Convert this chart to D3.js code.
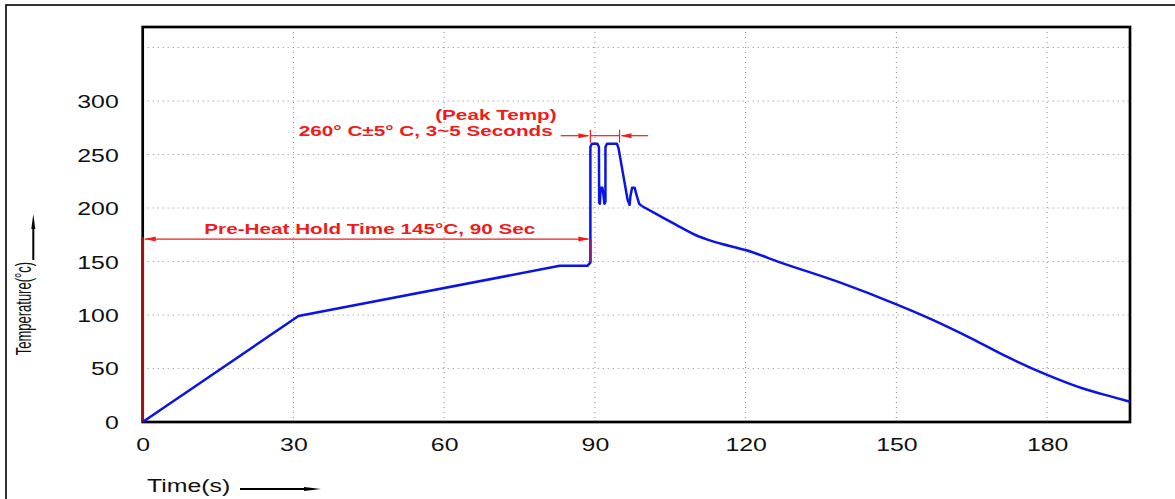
<!DOCTYPE html>
<html><head><meta charset="utf-8">
<script src="https://cdn.jsdelivr.net/npm/d3@7"></script>
<style>
html,body{margin:0;padding:0;background:#fff;}
svg{display:block;font-family:"Liberation Sans",Arial,sans-serif;}
</style></head>
<body>
<svg id="c" width="1175" height="499"></svg>
<script>
// ---- data ----
const xTicks = [0, 30, 60, 90, 120, 150, 180];
const yTicks = [0, 50, 100, 150, 200, 250, 300];
const yGrid = [50, 100, 150, 200, 250, 300, 350];
const xGrid = [30, 60, 90, 120, 150, 180];

// ramp, preheat and peak (linear segments)
const heatTime = [0, 31, 83, 88.5, 89.1, 89.1, 89.4, 90.5, 90.8, 90.85, 91.0, 91.15, 91.5, 91.7, 91.9, 92.1, 92.1, 92.4, 94.4, 94.7, 96.5, 96.9, 97.1, 97.4, 97.9, 98.3, 98.8, 99.3];
const heatTemp = [0, 99, 146, 146, 149, 257, 260, 260, 257, 205, 204, 219, 219, 212, 204, 206, 257, 260, 260, 256, 208, 203, 212, 219, 219, 212, 204, 202];
// cooling (smooth)
const coolTime = [99.3, 102, 105, 108, 110, 112, 115, 120, 127, 139, 150, 157, 165, 172, 180, 187, 193, 196.5];
const coolTemp = [202, 195, 187.3, 179.5, 174.8, 171.2, 166.8, 160.7, 149, 130, 110, 96, 78, 61, 44, 31.5, 23.5, 19];

const preheatLabel = "Pre-Heat Hold Time 145°C, 90 Sec";
const peakLabel1 = "(Peak Temp)";
const peakLabel2 = "260° C±5° C, 3~5 Seconds";
const xTitle = "Time(s)";
const yTitle = "Temperature(°c)";

// ---- layout ----
const SX = 1.38; // horizontal glyph stretch of the reference
const svg = d3.select("#c");
const L = 142.7, R = 1130, T = 27, B = 422;
const x = d3.scaleLinear().domain([0, 196.5]).range([L, R]);
const y = d3.scaleLinear().domain([0, 369.2]).range([B, T]);
const RED = "#ee1c1c";

// outer frame
svg.append("rect").attr("x", 6).attr("y", 5).attr("width", 1300).attr("height", 700)
  .attr("fill", "none").attr("stroke", "#000").attr("stroke-width", 1.6);

// grid
const g = svg.append("g");
g.selectAll(".vg").data(xGrid).enter().append("line")
  .attr("x1", d => x(d)).attr("x2", d => x(d)).attr("y1", T).attr("y2", B)
  .attr("stroke", "#888").attr("stroke-width", 1).attr("stroke-dasharray", "1,4");
g.selectAll(".hg").data(yGrid).enter().append("line")
  .attr("y1", d => y(d)).attr("y2", d => y(d)).attr("x1", L).attr("x2", R)
  .attr("stroke", "#888").attr("stroke-width", 1).attr("stroke-dasharray", "1,4");

// axes (labels only, via d3 axis)
const ax = svg.append("g").attr("transform", `translate(0,${B})`)
  .call(d3.axisBottom(x).tickValues(xTicks).tickSize(0).tickFormat(d3.format("d")));
ax.select(".domain").remove();
ax.selectAll("text").attr("y", 0).attr("dy", 0)
  .attr("transform", "translate(0,29) scale(" + SX + ",1)")
  .attr("font-size", 18).attr("font-family", "Liberation Sans, Arial, sans-serif").attr("fill", "#111");

const ay = svg.append("g").attr("transform", `translate(${L},0)`)
  .call(d3.axisLeft(y).tickValues(yTicks).tickSize(0).tickFormat(d3.format("d")));
ay.select(".domain").remove();
ay.selectAll("text").attr("x", 0).attr("dy", "0.36em")
  .attr("transform", "translate(-24,0) scale(" + SX + ",1)")
  .attr("font-size", 18).attr("font-family", "Liberation Sans, Arial, sans-serif").attr("fill", "#111");

// plot frame
svg.append("rect").attr("x", L).attr("y", T).attr("width", R - L).attr("height", B - T)
  .attr("fill", "none").attr("stroke", "#000").attr("stroke-width", 2.7);

// arrowhead helper
function head(tipX, tipY, dir, len, hw, color) {
  let pts;
  if (dir === "up") pts = [[tipX, tipY], [tipX - hw, tipY + len], [tipX + hw, tipY + len]];
  else pts = [[tipX, tipY], [tipX - dir * len, tipY - hw], [tipX - dir * len, tipY + hw]];
  svg.append("polygon").attr("points", pts.map(p => p.join(",")).join(" ")).attr("fill", color);
}

// pre-heat annotation
const pa = y(171);
svg.append("line").attr("x1", x(0)).attr("x2", x(0)).attr("y1", pa - 2).attr("y2", B)
  .attr("stroke", "#a0100e").attr("stroke-width", 2.7);
svg.append("line").attr("x1", x(0) + 2).attr("x2", x(89.1) - 2).attr("y1", pa).attr("y2", pa)
  .attr("stroke", RED).attr("stroke-width", 1.2);
head(x(0) + 2, pa, -1, 11, 2.5, RED);
head(x(89.1) - 1, pa, 1, 11, 2.5, RED);

// curve
const line = d3.line().x(d => x(d[0])).y(d => y(d[1]));
svg.append("path").datum(heatTime.map((t, i) => [t, heatTemp[i]]))
  .attr("d", line.curve(d3.curveLinear)).attr("fill", "none")
  .attr("stroke", "#0a14e6").attr("stroke-width", 2.5).attr("stroke-linejoin", "round");
svg.append("path").datum(coolTime.map((t, i) => [t, coolTemp[i]]))
  .attr("d", d3.line().x(d => x(d[0])).y(d => y(d[1])).curve(d3.curveMonotoneX)).attr("fill", "none")
  .attr("stroke", "#0a14e6").attr("stroke-width", 2.5).attr("stroke-linejoin", "round");

// purple overlap segment at the preheat end
svg.append("line").attr("x1", x(89.1)).attr("x2", x(89.1)).attr("y1", pa).attr("y2", y(150))
  .attr("stroke", "#8a1c86").attr("stroke-width", 2.5);

// preheat text
svg.append("text").attr("transform", `translate(${x(45.2)},${y(175.7)}) scale(${SX},1)`)
  .attr("text-anchor", "middle").attr("font-size", 15).attr("font-weight", "bold")
  .attr("fill", RED).text(preheatLabel);

// peak annotation
const pk = y(267.6);
svg.append("line").attr("x1", x(83.2)).attr("x2", x(89.1) - 2).attr("y1", pk).attr("y2", pk)
  .attr("stroke", RED).attr("stroke-width", 1.2);
head(x(89.1) - 1, pk, 1, 11, 2.5, RED);
svg.append("line").attr("x1", x(100.6)).attr("x2", x(94.9) + 2).attr("y1", pk).attr("y2", pk)
  .attr("stroke", RED).attr("stroke-width", 1.2);
head(x(94.9) + 1, pk, -1, 11, 2.5, RED);
svg.append("line").attr("x1", x(89.1)).attr("x2", x(89.1)).attr("y1", pk - 6).attr("y2", pk + 7)
  .attr("stroke", RED).attr("stroke-width", 1.2);
svg.append("line").attr("x1", x(94.9)).attr("x2", x(94.9)).attr("y1", pk - 6).attr("y2", pk + 7)
  .attr("stroke", RED).attr("stroke-width", 1.2);
svg.append("line").attr("x1", x(89.1)).attr("x2", x(94.9)).attr("y1", pk).attr("y2", pk)
  .attr("stroke", RED).attr("stroke-width", 1.2);

svg.append("text").attr("transform", `translate(${x(70.3)},${y(282.2)}) scale(${SX},1)`)
  .attr("text-anchor", "middle").attr("font-size", 15).attr("font-weight", "bold")
  .attr("fill", RED).text(peakLabel1);
svg.append("text").attr("transform", `translate(${x(81.6)},${pk}) scale(${SX},1)`)
  .attr("text-anchor", "end").attr("font-size", 15).attr("font-weight", "bold")
  .attr("fill", RED).text(peakLabel2);

// axis titles
svg.append("text").attr("transform", `translate(147,492) scale(${SX},1)`)
  .attr("font-size", 18).attr("fill", "#111").text(xTitle);
svg.append("line").attr("x1", 240).attr("x2", 306).attr("y1", 489).attr("y2", 489)
  .attr("stroke", "#000").attr("stroke-width", 2);
head(321, 489, 1, 17, 2, "#000");

svg.append("text").attr("transform", `translate(31,262) scale(1.75,1) rotate(-90)`)
  .attr("text-anchor", "end").attr("font-size", 13).attr("fill", "#111").text(yTitle);
svg.append("line").attr("x1", 33.3).attr("x2", 33.3).attr("y1", 260).attr("y2", 228)
  .attr("stroke", "#000").attr("stroke-width", 2);
head(33.3, 214, "up", 15, 2, "#000");
</script>
</body></html>
